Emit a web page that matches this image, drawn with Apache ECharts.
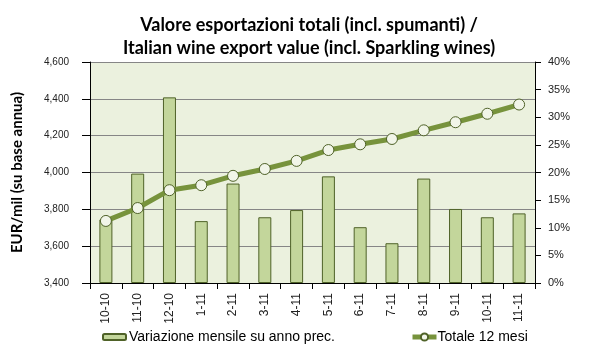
<!DOCTYPE html>
<html>
<head>
<meta charset="utf-8">
<script src="https://cdn.jsdelivr.net/npm/echarts@6/dist/echarts.min.js"></script>
<style>html,body{margin:0;padding:0;background:#fff;}#c{width:599px;height:356px;}</style>
</head>
<body>
<div id="c"></div>
<script>
const categories = ['10-10','11-10','12-10','1-11','2-11','3-11','4-11','5-11','6-11','7-11','8-11','9-11','10-11','11-11'];
const monthlyChangePct = [11.5, 19.8, 33.6, 11.2, 18.0, 11.9, 13.2, 19.3, 10.1, 7.2, 18.9, 13.4, 11.9, 12.6];
const total12Months = [3737, 3807, 3904, 3931, 3982, 4019, 4063, 4122, 4153, 4182, 4229, 4273, 4319, 4369];
const leftTicks = [3400, 4600, 200];
const rightTicks = [0, 40, 5];

const chart = echarts.init(document.getElementById('c'), null, {renderer: 'canvas'});
const axisFont = 'Liberation Sans';
chart.setOption({
  animation: false,
  title: {
    text: 'Valore esportazioni totali (incl. spumanti) /\nItalian wine export value (incl. Sparkling wines)',
    left: 309, top: 14, textAlign: 'center', padding: 0,
    textStyle: {fontFamily: 'Lato', fontWeight: 'bold', fontSize: 18, lineHeight: 23, color: '#000'}
  },
  legend: [
    {data: ['Variazione mensile su anno prec.'], left: 102, top: 330, padding: 0, itemWidth: 23, itemHeight: 6, itemGap: 4,
     textStyle: {fontFamily: 'Liberation Sans', fontSize: 14, color: '#000', padding: [0,0,0,-2]}},
    {data: ['Totale 12 mesi'], left: 410, top: 330, padding: 0, itemWidth: 24, itemHeight: 9,
     lineStyle: {width: 5, color: '#77933C'},
     textStyle: {fontFamily: 'Liberation Sans', fontSize: 14, color: '#000', padding: [0,0,0,-4]}}
  ],
  grid: {left: 90, right: 64, top: 62, bottom: 73, show: true, backgroundColor: '#EBF1DE', borderWidth: 0},
  xAxis: {
    type: 'category', data: categories, boundaryGap: true,
    axisLine: {lineStyle: {color: '#000', width: 1}},
    axisTick: {show: true, alignWithLabel: false, length: 6, lineStyle: {color: '#000'}},
    axisLabel: {rotate: 90, margin: 10, interval: 0, fontFamily: axisFont, fontSize: 12, color: '#222'}
  },
  yAxis: [
    {type: 'value', min: leftTicks[0], max: leftTicks[1], interval: leftTicks[2], position: 'left',
     name: 'EUR/mil (su base annua)', nameLocation: 'middle', nameGap: 65,
     nameTextStyle: {fontFamily: 'Lato', fontWeight: 'bold', fontSize: 15, color: '#000'},
     axisLine: {show: true, lineStyle: {color: '#000'}},
     axisTick: {show: true, length: 8, lineStyle: {color: '#000'}},
     splitLine: {show: true, lineStyle: {color: '#868686', width: 1}},
     axisLabel: {margin: 21, fontFamily: axisFont, fontSize: 10, color: '#222',
       formatter: v => v.toLocaleString('en-US')}},
    {type: 'value', min: rightTicks[0], max: rightTicks[1], interval: rightTicks[2], position: 'right',
     axisLine: {show: true, lineStyle: {color: '#000'}},
     axisTick: {show: true, length: 6, lineStyle: {color: '#000'}},
     splitLine: {show: false},
     axisLabel: {margin: 13, fontFamily: axisFont, fontSize: 11, color: '#222', formatter: '{value}%'}}
  ],
  series: [
    {name: 'Variazione mensile su anno prec.', type: 'bar', yAxisIndex: 1, data: monthlyChangePct,
     barWidth: 13, itemStyle: {color: '#C3D69B', borderColor: '#4F6228', borderWidth: 1}},
    {name: 'Totale 12 mesi', type: 'line', yAxisIndex: 0, data: total12Months,
     symbol: 'circle', symbolSize: 11,
     lineStyle: {color: '#77933C', width: 5},
     itemStyle: {color: '#F1F5E8', borderColor: '#4F6228', borderWidth: 1}}
  ]
});
</script>
</body>
</html>
